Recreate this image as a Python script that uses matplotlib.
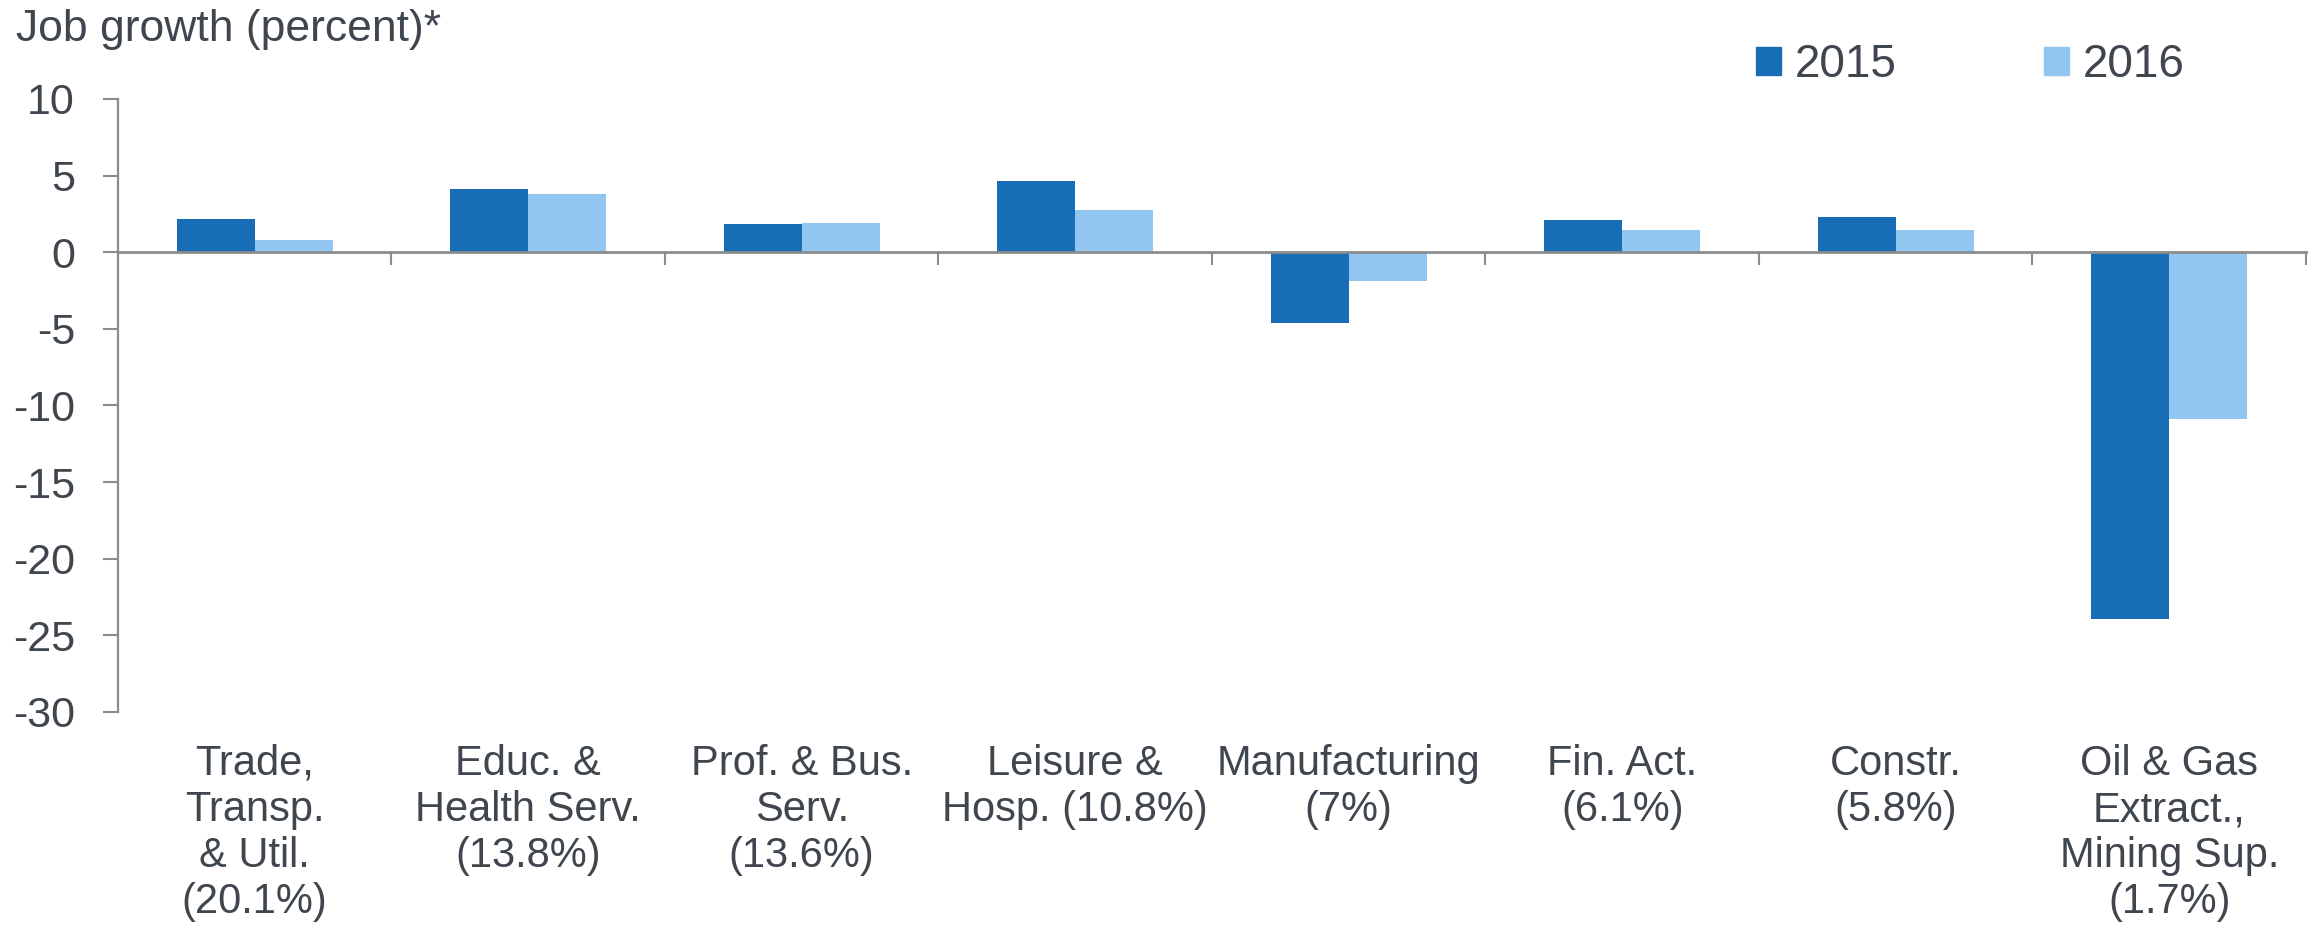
import matplotlib
matplotlib.use("Agg")
import matplotlib.pyplot as plt
import matplotlib.transforms as mtransforms
from matplotlib.patches import Patch
import numpy as np

plt.rcParams['font.family'] = ['Liberation Sans', 'DejaVu Sans']
plt.rcParams['axes.unicode_minus'] = False

# job growth by sector, percent (share of employment in brackets)
sectors = ["Trade,\nTransp.\n& Util.\n(20.1%)",
           "Educ. &\nHealth Serv.\n(13.8%)",
           "Prof. & Bus.\nServ.\n(13.6%)",
           "Leisure &\nHosp. (10.8%)",
           "Manufacturing\n(7%)",
           "Fin. Act.\n(6.1%)",
           "Constr.\n(5.8%)",
           "Oil & Gas\nExtract.,\nMining Sup.\n(1.7%)"]
growth_2015 = [2.2, 4.15, 1.86, 4.64, -4.62, 2.12, 2.3, -23.95]
growth_2016 = [0.77, 3.82, 1.92, 2.77, -1.87, 1.42, 1.42, -10.9]
years = ["2015", "2016"]
yticks = [-30, -25, -20, -15, -10, -5, 0, 5, 10]

dark = '#176db6'
light = '#93c5f1'
txt = '#3f464e'
grey = '#8c8c8c'

fig = plt.figure(figsize=(23.18, 9.33), dpi=100)
ax = fig.add_axes([0.0509, 0.2369, 0.9439, 0.657])

x = np.arange(len(sectors))
w = 0.285
ax.bar(x - w / 2, growth_2015, w, color=dark, zorder=2)
ax.bar(x + w / 2, growth_2016, w, color=light, zorder=2)

ax.set_xlim(-0.5, len(sectors) - 0.5)
ax.set_ylim(-30, 10)

for s in ['top', 'right']:
    ax.spines[s].set_visible(False)
ax.spines['left'].set_color(grey)
ax.spines['left'].set_linewidth(1.6)
ax.spines['bottom'].set_position(('data', 0))
ax.spines['bottom'].set_color(grey)
ax.spines['bottom'].set_linewidth(2)
ax.spines['bottom'].set_zorder(3)

ax.set_yticks(yticks)
ax.set_yticklabels([str(v) for v in yticks])
ax.tick_params(axis='y', direction='out', length=11, width=1.5, color=grey,
               pad=20, labelsize=31, labelcolor=txt)

ax.set_xticks(x + 0.5)
ax.set_xticklabels([])
ax.tick_params(axis='x', direction='out', length=9.5, width=1.5, color=grey)

trans = mtransforms.blended_transform_factory(ax.transData, ax.transAxes)
for i, lab in enumerate(sectors):
    ax.text(i, -0.052, lab, transform=trans, ha='center', va='top',
            fontsize=30, color=txt, linespacing=1.2)

fig.text(0.007, 0.99, "Job growth (percent)*", ha='left', va='top',
         fontsize=32, color=txt)

handles = [Patch(color=dark), Patch(color=light)]
fig.legend(handles, years, loc='center left', bbox_to_anchor=(0.7576, 0.930),
           ncol=2, frameon=False, fontsize=33, labelcolor=txt,
           handlelength=0.55, handleheight=0.55, handletextpad=0.3,
           columnspacing=3.2, borderpad=0, borderaxespad=0)

fig.savefig("out.png", dpi=100)
